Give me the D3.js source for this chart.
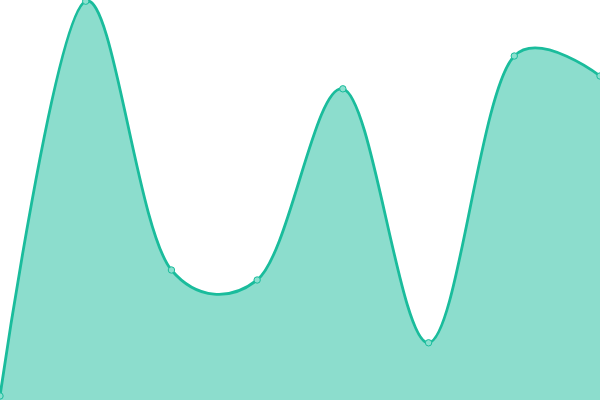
<!DOCTYPE html>
<html>
<head>
<meta charset="utf-8">
<script src="https://cdn.jsdelivr.net/npm/d3@7"></script>
<style>
  html, body { margin: 0; padding: 0; background: #fff; }
  svg { display: block; }
</style>
</head>
<body>
<div id="chart"></div>
<script>
// --- data ---
var labels = ['A', 'B', 'C', 'D', 'E', 'F', 'G', 'H'];
var values = [1, 99.7, 32.5, 30, 77.8, 14.3, 86, 81];

var width = 600,
    height = 400;

var svg = d3.select('#chart').append('svg')
    .attr('width', width)
    .attr('height', height);

var x = d3.scalePoint()
    .domain(labels)
    .range([0, width]);

var y = d3.scaleLinear()
    .domain([0, 100])
    .range([height, 0]);

var curve = d3.curveCatmullRom.alpha(0.25);

var area = d3.area()
    .x(function (d, i) { return x(labels[i]); })
    .y0(height)
    .y1(function (d) { return y(d); })
    .curve(curve);

var line = d3.line()
    .x(function (d, i) { return x(labels[i]); })
    .y(function (d) { return y(d); })
    .curve(curve);

svg.append('path')
    .datum(values)
    .attr('d', area)
    .attr('fill', '#1abc9c')
    .attr('fill-opacity', 0.5);

svg.append('path')
    .datum(values)
    .attr('d', line)
    .attr('fill', 'none')
    .attr('stroke', '#1abc9c')
    .attr('stroke-width', 2.8);

svg.selectAll('circle.pt')
    .data(values)
    .enter().append('circle')
    .attr('class', 'pt')
    .attr('cx', function (d, i) { return x(labels[i]); })
    .attr('cy', function (d) { return y(d); })
    .attr('r', 3.2)
    .attr('fill', '#8be0cf')
    .attr('stroke', '#1abc9c')
    .attr('stroke-width', 1);
</script>
</body>
</html>
